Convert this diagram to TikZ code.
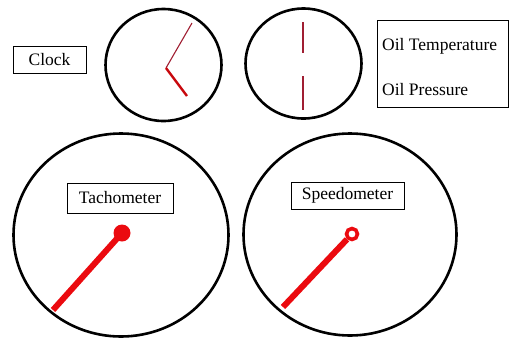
\documentclass[tikz,border=0pt]{standalone}
\usepackage{fontspec}
\setmainfont{Liberation Serif}
\newfontfamily\dialfont{Liberation Serif}
\usetikzlibrary{shapes.geometric}
\usetikzlibrary{positioning}

\definecolor{handred}{RGB}{160,30,50}
\definecolor{needlered}{RGB}{235,10,15}

\begin{document}
\begin{tikzpicture}[
    x=1pt, y=-1pt,
    every node/.style={font=\dialfont\fontsize{17.5}{19}\selectfont},
    gauge/.style={draw, ellipse, line width=2.6pt, inner sep=0pt},
    tagbox/.style={draw, line width=0.8pt, inner sep=0pt},
    thinhand/.style={draw=handred, line width=1.1pt},
    hourhand/.style={draw=needlered!85!black, line width=2.4pt},
    needle/.style={draw=needlered, line width=6pt}
]
\useasboundingbox (0,0) rectangle (509,341);

\node[tagbox, minimum width=73pt, minimum height=27pt] (clocktag) at (49.5,59.5) {Clock};
\node[gauge, minimum width=116pt, minimum height=112pt] (clock) at (163.5,65) {};
\coordinate (clockhub) at (166,68);
\coordinate (minutetip) at (192,23);
\coordinate (hourtip) at (187,96);
\draw[thinhand] (clockhub) -- (minutetip);
\draw[hourhand] (clockhub) -- (hourtip);

\node[gauge, minimum width=116pt, minimum height=110pt] (oil) at (303.5,63.5) {};
\coordinate (tempA) at (303,22);
\coordinate (tempB) at (303,53);
\coordinate (pressA) at (303,76);
\coordinate (pressB) at (303,110);
\draw[thinhand] (tempA) -- (tempB);
\draw[thinhand] (pressA) -- (pressB);

\node[tagbox, minimum width=131pt, minimum height=87pt] (oiltag) at (442.5,63.5) {};
\node[anchor=west, inner sep=0pt] (oiltemp) at (382,46) {Oil Temperature};
\node[anchor=west, inner sep=0pt] (oilpress) at (382,90) {Oil Pressure};

\node[gauge, minimum width=215pt, minimum height=203pt] (tacho) at (121,235) {};
\node[tagbox, minimum width=106pt, minimum height=30pt] (tachotag) at (120,198) {Tachometer};
\node[circle, fill=needlered, minimum size=17pt, inner sep=0pt] (tachohub) at (122,233) {};
\coordinate (tachotip) at (53,310);
\draw[needle] (tachohub.center) -- (tachotip);

\node[gauge, minimum width=213pt, minimum height=202pt] (speedo) at (350,234.5) {};
\node[tagbox, minimum width=113pt, minimum height=27pt] (speedotag) at (347.5,195.5) {Speedometer};
\node[circle, draw=needlered, line width=3.6pt, minimum size=11pt, inner sep=0pt] (speedohub) at (352,234) {};
\coordinate (speedotip) at (283,307);
\draw[needle] (speedohub) -- (speedotip);
\end{tikzpicture}
\end{document}
